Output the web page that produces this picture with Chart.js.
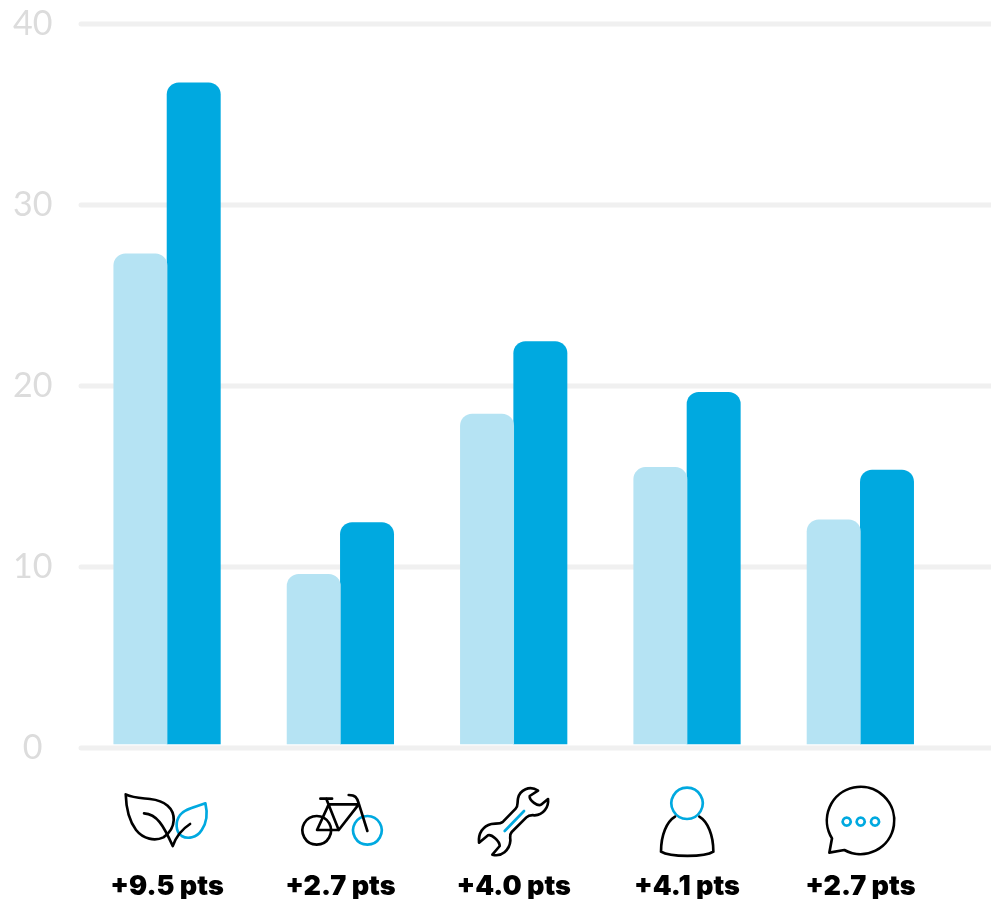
<!DOCTYPE html>
<html>
<head>
<meta charset="utf-8">
<style>
  html, body { margin: 0; padding: 0; background: #fff; }
  canvas { display: block; }
</style>
<script src="https://cdn.jsdelivr.net/npm/chart.js@4"></script>
</head>
<body>
<canvas id="chart" width="991" height="899"></canvas>
<script>
// Chart values
const changeLabels = ['+9.5 pts', '+2.7 pts', '+4.0 pts', '+4.1 pts', '+2.7 pts'];
const beforeValues = [27.3, 9.6, 18.45, 15.5, 12.6];
const afterValues = [36.75, 12.45, 22.45, 19.65, 15.35];
const yTicks = [0, 10, 20, 30, 40];

const DARK_BLUE = '#00a9e0';
const LIGHT_BLUE = '#b5e3f3';
const BLACK = '#000';

// Icons are sketched at 3x, x is relative to the category centre
const icons = [
  {
    ax: 201,
    black: ['M77 73 C100 84 125 84 150 87 C195 92 222 115 221 150 C220 172 208 190 190 202 C165 214 130 208 108 180 C85 150 78 110 77 73 Z',
      'M132 130 C170 132 190 165 218 228 C228 200 245 178 270 162'],
    blue: ['M316 100 C285 112 255 115 240 135 C225 155 226 185 245 198 C262 208 290 204 305 180 C322 155 322 125 316 100 Z']
  },
  {
    ax: 720,
    black: ['M649 138 A43 43 0 1 0 649.1 138 Z',
      'M660 86 L695 86', 'M678 87 L715 180 L650 180 L685 103 L775 103 L715 180',
      'M745 75 C765 75 770 82 775 100 L801 183'],
    blue: ['M801 138 A43 43 0 1 0 801.1 138 Z']
  },
  {
    ax: 222,
    black: ['M295 62 C270 45 240 60 235 85 C232 100 236 108 228 116 L190 155 C180 163 170 160 155 162 C130 168 115 190 118 218 L145 196 C155 192 180 212 180 228 L158 254 C185 262 210 240 212 212 C212 200 208 195 216 186 L260 142 C268 134 275 135 285 136 C310 135 328 112 325 87 L304 104 C295 110 268 92 270 78 Z'],
    blue: ['M195 183 L253 123']
  },
  {
    ax: 741,
    black: ['M705 140 C680 155 663 195 663 245 C690 262 795 262 820 245 C820 195 803 155 778 140'],
    blue: ['M741 53 A47 47 0 1 0 741.1 53 Z']
  },
  {
    ax: 240,
    black: ['M192 240 A101 101 0 1 0 155 205 L147 248 Z'],
    blue: ['M199 143 A12 12 0 1 0 199.1 143 Z', 'M241 143 A12 12 0 1 0 241.1 143 Z', 'M284 143 A12 12 0 1 0 284.1 143 Z']
  }
];

// Grid runs past the plot area up to the page edge, so it is drawn here
const wideGrid = {
  id: 'wideGrid',
  beforeDatasetsDraw(chart) {
    const ctx = chart.ctx;
    const y = chart.scales.y;
    ctx.save();
    ctx.strokeStyle = '#f0f0f0';
    ctx.lineWidth = 5;
    ctx.lineCap = 'round';
    y.ticks.forEach((tick, i) => {
      const py = y.getPixelForTick(i);
      ctx.beginPath();
      ctx.moveTo(81, py);
      ctx.lineTo(chart.width + 5, py);
      ctx.stroke();
    });
    ctx.restore();
  }
};

const iconRow = {
  id: 'iconRow',
  afterDraw(chart) {
    const ctx = chart.ctx;
    const x = chart.scales.x;
    icons.forEach((icon, i) => {
      ctx.save();
      ctx.translate(x.getPixelForTick(i), 770);
      ctx.scale(1 / 3, 1 / 3);
      ctx.translate(-icon.ax, 0);
      ctx.lineWidth = 8;
      ctx.lineJoin = 'round';
      ctx.lineCap = 'round';
      ctx.strokeStyle = DARK_BLUE;
      icon.blue.forEach(d => ctx.stroke(new Path2D(d)));
      ctx.strokeStyle = BLACK;
      icon.black.forEach(d => ctx.stroke(new Path2D(d)));
      ctx.restore();
    });
  }
};

const radius = { topLeft: 12, topRight: 12, bottomLeft: 0, bottomRight: 0 };

new Chart(document.getElementById('chart'), {
  type: 'bar',
  data: {
    labels: changeLabels,
    datasets: [
      { label: 'Before', data: beforeValues, backgroundColor: LIGHT_BLUE, borderRadius: radius, borderSkipped: false, base: 0.22 },
      { label: 'After', data: afterValues, backgroundColor: DARK_BLUE, borderRadius: radius, borderSkipped: false, base: 0.22 }
    ]
  },
  options: {
    responsive: false,
    animation: false,
    layout: { padding: { top: 24, right: 44 } },
    datasets: { bar: { barThickness: 53.3 } },
    plugins: { legend: { display: false }, tooltip: { enabled: false } },
    scales: {
      x: {
        grid: { display: false },
        border: { display: false },
        afterFit(scale) {
          scale.height = 151;
          scale.paddingLeft = 0;
          scale.paddingRight = 0;
        },
        ticks: {
          color: BLACK,
          padding: 115,
          autoSkip: false,
          maxRotation: 0,
          font: { family: 'Inter', size: 27, weight: 900 }
        }
      },
      y: {
        min: 0,
        max: 40,
        grid: { display: false },
        border: { display: false },
        afterBuildTicks(scale) { scale.ticks = yTicks.map(v => ({ value: v })); },
        afterFit(scale) {
          scale.width = 80.4;
          scale.paddingTop = 0;
          scale.paddingBottom = 0;
        },
        ticks: {
          color: '#dcdcdc',
          padding: 20,
          crossAlign: 'center',
          font: { family: 'Lato', size: 34, weight: 400 }
        }
      }
    }
  },
  plugins: [wideGrid, iconRow]
});
</script>
</body>
</html>
